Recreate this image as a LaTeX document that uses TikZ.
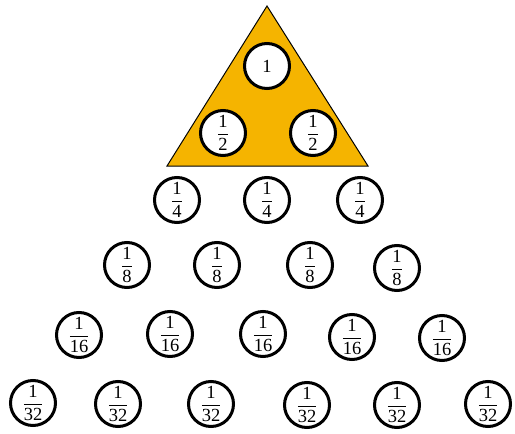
\documentclass[tikz,border=0pt]{standalone}
\usepackage{amsmath}
\usepackage{fontspec}
\setmainfont{Liberation Serif}
\definecolor{trigold}{RGB}{245,180,0}

\newcommand{\fr}[1]{$\dfrac{\textrm{1}}{\textrm{#1}}$}

\begin{document}
\begin{tikzpicture}[x=1pt,y=-1pt,
  coin/.style={circle,draw,line width=3pt,fill=white,minimum size=45pt,
    inner sep=0pt,font=\fontsize{18.5}{21}\selectfont}]
  \useasboundingbox (0,0) rectangle (515,434);
  % the golden triangle
  \fill[trigold,draw=black,line width=1pt] (267,6) -- (368,166) -- (167,166) -- cycle;
  \node[coin] (one) at (267,66) {1};
  \node[coin] (halfL) at (223,133) {\fr{2}};
  \node[coin] (halfR) at (313,133) {\fr{2}};
  % rows below
  \foreach \x/\y [count=\i] in {177/200,267/200,360/200}
    \node[coin] (quarter\i) at (\x,\y) {\fr{4}};
  \foreach \x/\y [count=\i] in {127/265,217/265,310/265,397/268}
    \node[coin] (eighth\i) at (\x,\y) {\fr{8}};
  \foreach \x/\y [count=\i] in {79/335,170/334,263/334,352/337,442/338}
    \node[coin] (sixteenth\i) at (\x,\y) {\fr{16}};
  \foreach \x/\y [count=\i] in {33/403,118/404,211/404,307/405,397/405,488/404}
    \node[coin] (thirtysecond\i) at (\x,\y) {\fr{32}};
\end{tikzpicture}
\end{document}
